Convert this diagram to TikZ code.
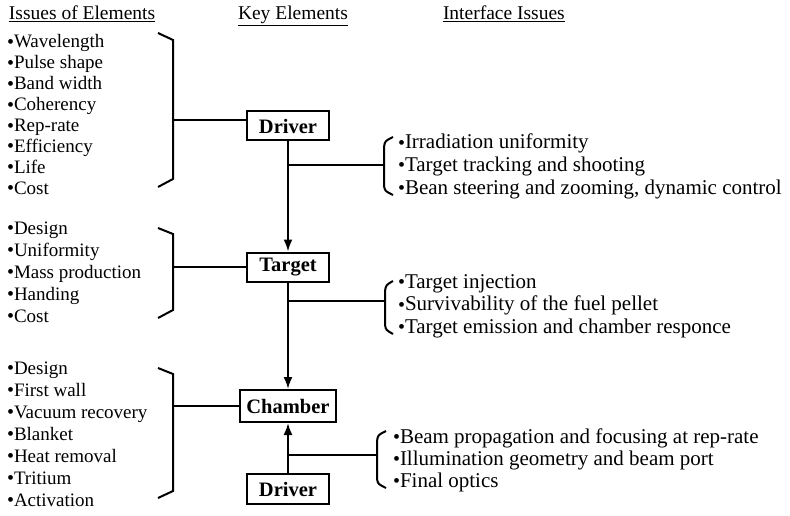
\documentclass[tikz,border=0pt]{standalone}
\usepackage{fontspec}
\setmainfont{Liberation Serif}
\usetikzlibrary{arrows.meta}

\begin{document}
\begin{tikzpicture}[x=1pt,y=-1pt,line width=2pt,
  key node/.style={draw,line width=2pt,inner sep=0pt,minimum width=82pt,minimum height=29pt,font=\fontsize{20.5}{22}\selectfont\bfseries},
  issue/.style={anchor=base west,inner sep=0pt,font=\fontsize{19}{22}\selectfont},
  iface/.style={anchor=base west,inner sep=0pt,font=\fontsize{21}{22}\selectfont},
  head node/.style={anchor=base west,inner sep=0pt,font=\fontsize{19.5}{20}\selectfont}]
\tikzstyle{feed} = [draw,-{Latex[length=12pt,width=9pt]}]
\newcommand{\bul}{\raisebox{-0.5pt}{\fontsize{20}{20}\selectfont\textbullet}}

\useasboundingbox (0,0) rectangle (790,516);

% headings
\node[head node] (h1) at (8,20) {\underline{Issues of Elements}};
\node[head node] (h2) at (237,20) {\underline{Key Elements}};
\node[head node] (h3) at (442,20) {\underline{Interface Issues}};

% key elements
\node[key node] (drv1) at (288,126) {Driver};
\node[key node] (tgt) at (288,267) {Target};
\node[key node,minimum width=96pt,minimum height=32pt] (chb) at (288,406) {Chamber};
\node[key node,minimum height=30pt] (drv2) at (288,489) {Driver};

% issues of the elements
\foreach \t [count=\i] in {Wavelength,Pulse shape,Band width,Coherency,Rep-rate,Efficiency,Life,Cost}
  \node[issue] (drvis-\i) at (6,{48+(\i-1)*20.9}) {\bul\t};
\foreach \t [count=\i] in {Design,Uniformity,Mass production,Handing,Cost}
  \node[issue] (tgtis-\i) at (6,{234+(\i-1)*22}) {\bul\t};
\foreach \t [count=\i] in {Design,First wall,Vacuum recovery,Blanket,Heat removal,Tritium,Activation}
  \node[issue] (chbis-\i) at (6,{374+(\i-1)*22}) {\bul\t};

% brackets on the left
\draw (158,33) -- (173,40) -- (173,179) -- (158,187);
\draw (158,228) -- (173,234) -- (173,310) -- (158,318);
\draw (158,368) -- (173,374) -- (173,491) -- (158,498);
\coordinate (b1) at (173,120);
\coordinate (b2) at (173,267);
\coordinate (b3) at (173,406);
\draw (b1) -- (b1 -| drv1.west);
\draw (b2) -- (b2 -| tgt.west);
\draw (b3) -- (b3 -| chb.west);

% interface issues
\foreach \t [count=\i] in {Irradiation uniformity,Target tracking and shooting,{Bean steering and zooming, dynamic control}}
  \node[iface] (ifa-\i) at (397,{149+(\i-1)*22.5}) {\bul\t};
\foreach \t [count=\i] in {Target injection,Survivability of the fuel pellet,Target emission and chamber responce}
  \node[iface] (ifb-\i) at (397,{288+(\i-1)*22.5}) {\bul\t};
\foreach \t [count=\i] in {Beam propagation and focusing at rep-rate,Illumination geometry and beam port,Final optics}
  \node[iface] (ifc-\i) at (392,{443+(\i-1)*22}) {\bul\t};

% brackets on the right
\draw (393,137) .. controls (385,141) .. (384,147) -- (384,186) .. controls (385,191) .. (393,195);
\draw (393,281) .. controls (386,285) .. (385,291) -- (385,325) .. controls (386,330) .. (393,334);
\draw (386,431) .. controls (378,435) .. (377,441) -- (377,479) .. controls (378,484) .. (386,488);

% flow between the elements
\draw[feed] (drv1) -- (tgt);
\draw[feed] (tgt) -- (chb);
\draw[feed] (drv2) -- (chb);
\coordinate (f1) at (384,165);
\coordinate (f2) at (385,301);
\coordinate (f3) at (377,455);
\draw (f1) -- (f1 -| drv1.south);
\draw (f2) -- (f2 -| tgt.south);
\draw (f3) -- (f3 -| drv2.north);

\end{tikzpicture}
\end{document}
